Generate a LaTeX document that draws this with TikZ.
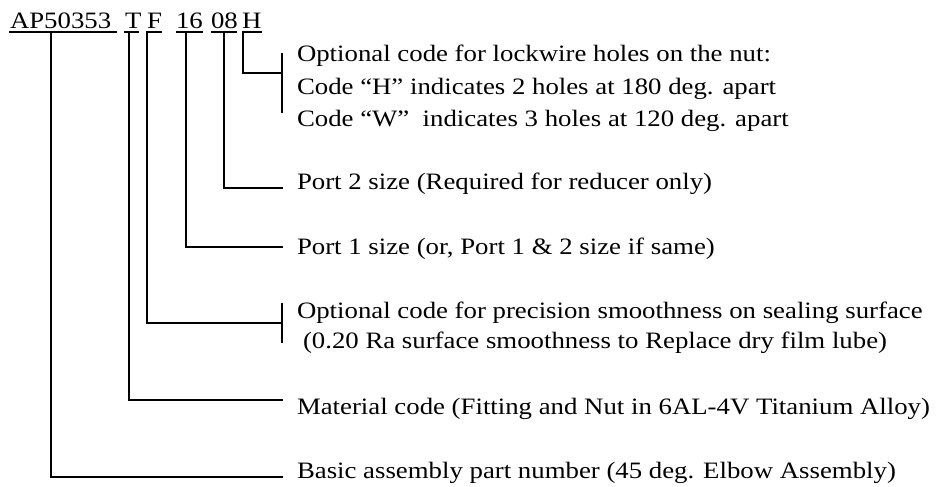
\documentclass[tikz,border=0pt]{standalone}
\usepackage{fontspec}
\setmainfont{Liberation Serif}[FakeStretch=1.14]
\begin{document}
\begin{tikzpicture}[x=1pt,y=-1pt,
  txt/.style={anchor=base west,inner sep=0pt,outer sep=0pt,font=\fontsize{23.5}{28}\selectfont},
  lead/.style={line width=1.4pt,line cap=rect},
  uline/.style={line width=1.2pt}]
\useasboundingbox (0,0) rectangle (940,487);
% top part number segments
\node[txt] (ap) at (10,29) {AP50353};
\node[txt] (t)  at (125,29) {T};
\node[txt] (f)  at (147,29) {F};
\node[txt] (s16) at (176,29) {16};
\node[txt] (s08) at (211,29) {08};
\node[txt] (h)  at (242,29) {H};
\draw[uline] (9,32) -- (117,32);
\draw[uline] (124,32) -- (139,32);
\draw[uline] (147,32) -- (162,32);
\draw[uline] (176,32) -- (203,32);
\draw[uline] (211,32) -- (237,32);
\draw[uline] (242,32) -- (262,32);
% descriptions
\node[txt] (h1) at (297,62) {Optional code for lockwire holes on the nut:};
\node[txt] (h2) at (297,94) {Code “H” indicates 2 holes at 180 deg. apart};
\node[txt] (h3) at (297,126) {Code “W”\ \ indicates 3 holes at 120 deg. apart};
\node[txt] (p2) at (297,189) {Port 2 size (Required for reducer only)};
\node[txt] (p1) at (297,254) {Port 1 size (or, Port 1 \& 2 size if same)};
\node[txt] (f1) at (297,318) {Optional code for precision smoothness on sealing surface};
\node[txt] (f2) at (303,348) {(0.20 Ra surface smoothness to Replace dry film lube)};
\node[txt] (m)  at (297,414) {Material code (Fitting and Nut in 6AL-4V Titanium Alloy)};
\node[txt] (b)  at (297,478) {Basic assembly part number (45 deg. Elbow Assembly)};
% connector coordinates
\coordinate (apT) at (51,32);   \coordinate (apE) at (282,477);
\coordinate (tT)  at (129,32);  \coordinate (tE)  at (282,400);
\coordinate (fT)  at (147,32);  \coordinate (fE)  at (282,323);
\coordinate (s16T) at (186,32); \coordinate (s16E) at (282,247);
\coordinate (s08T) at (224,32); \coordinate (s08E) at (282,188);
\coordinate (hT)  at (243,32);  \coordinate (hE)  at (282,73);
\coordinate (hb1) at (282,54);  \coordinate (hb2) at (282,112);
\coordinate (fb1) at (282,304); \coordinate (fb2) at (282,342);
\draw[lead] (apT) |- (apE);
\draw[lead] (tT) |- (tE);
\draw[lead] (fT) |- (fE);
\draw[lead] (s16T) |- (s16E);
\draw[lead] (s08T) |- (s08E);
\draw[lead] (hT) |- (hE);
\draw[lead] (hb1) -- (hb2);
\draw[lead] (fb1) -- (fb2);
\end{tikzpicture}
\end{document}
